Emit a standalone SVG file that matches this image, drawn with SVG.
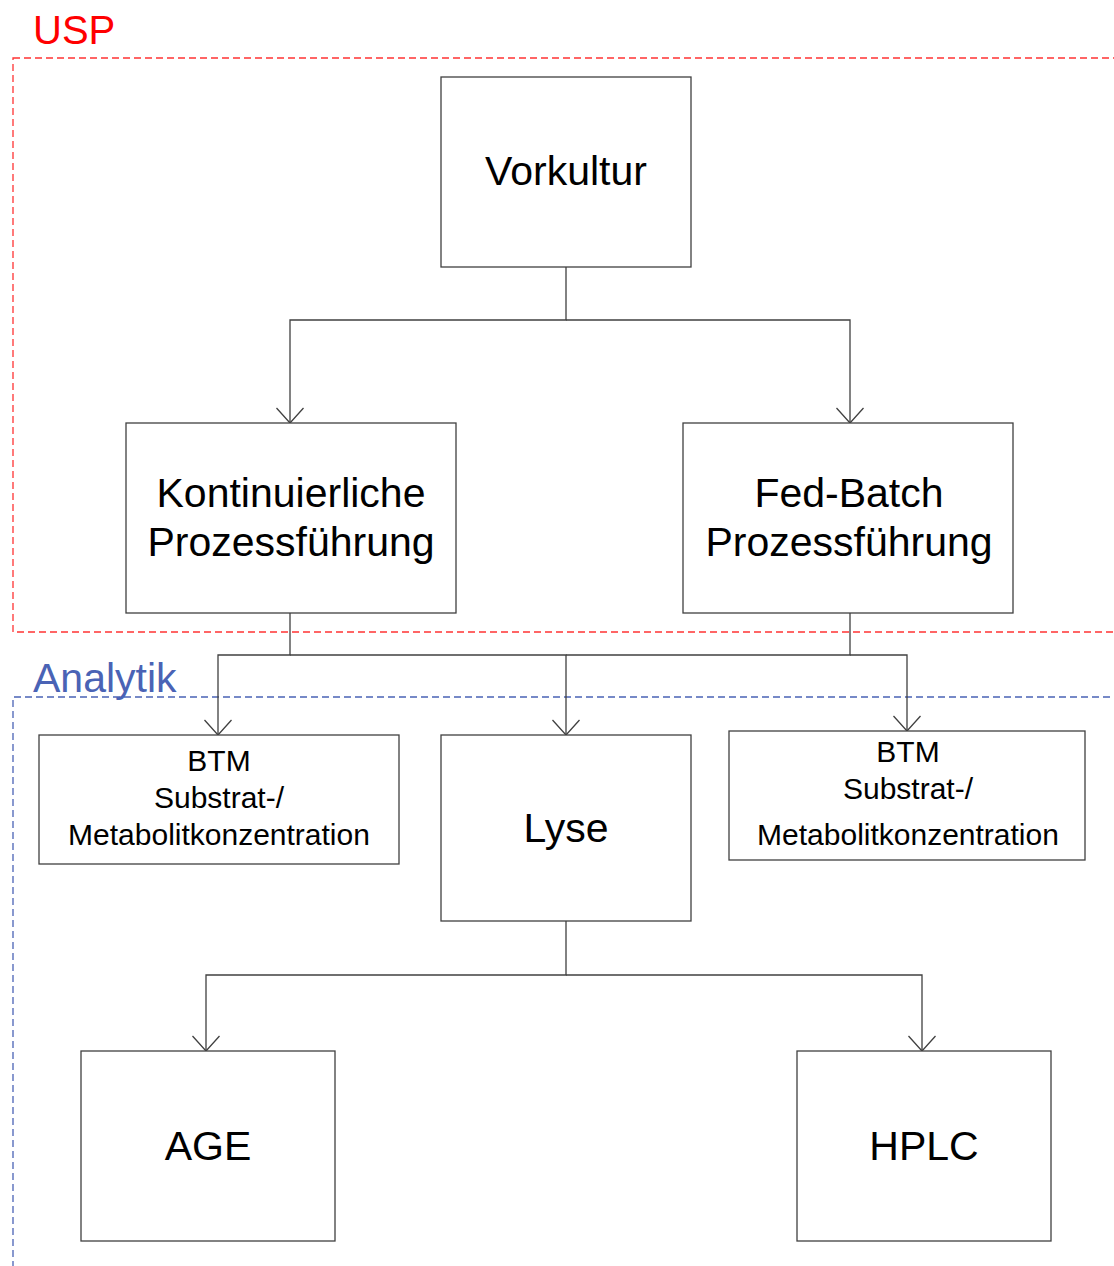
<svg xmlns="http://www.w3.org/2000/svg" width="1114" height="1266" viewBox="0 0 1114 1266">
<style>
.box{fill:#fff;stroke:#404040;stroke-width:1.3}
.t{font-family:"Liberation Sans",Arial,sans-serif;fill:#000;text-anchor:middle}
.big{font-size:41px}
.sm{font-size:30px}
.c{fill:none;stroke:#404040;stroke-width:1.3}
</style>
<defs>
<marker id="ah" viewBox="0 0 18 30" refX="16" refY="15" markerWidth="18" markerHeight="30" markerUnits="userSpaceOnUse" orient="auto">
<path d="M1,1.5 L16,15 L1,28.5" fill="none" stroke="#404040" stroke-width="1.3"/>
</marker>
</defs>
<g id="usp">
<rect x="13" y="58" width="1110" height="574" fill="none" stroke="#ff3333" stroke-width="1.3" stroke-dasharray="7,4"/>
<text x="33" y="44" font-family="Liberation Sans,Arial,sans-serif" font-size="40" fill="#ff0000">USP</text>
</g>
<g id="analytik">
<path d="M1110,697 H13 V1270" fill="none" stroke="#4a63b5" stroke-width="1.3" stroke-dasharray="7,4"/>
<text x="33" y="692" font-family="Liberation Sans,Arial,sans-serif" font-size="41" fill="#4a63b5">Analytik</text>
</g>
<g id="connectors">
<path class="c" d="M566,267 V320 H290 V423" marker-end="url(#ah)"/>
<path class="c" d="M566,320 H850 V423" marker-end="url(#ah)"/>
<path class="c" d="M290,613 V655 H218 V735" marker-end="url(#ah)"/>
<path class="c" d="M290,655 H566 V735" marker-end="url(#ah)"/>
<path class="c" d="M850,613 V655 H566"/>
<path class="c" d="M850,655 H907 V731" marker-end="url(#ah)"/>
<path class="c" d="M566,921 V975 H206 V1051" marker-end="url(#ah)"/>
<path class="c" d="M566,975 H922 V1051" marker-end="url(#ah)"/>
</g>
<g id="vorkultur">
<rect class="box" x="441" y="77" width="250" height="190"/>
<text class="t big" x="566" y="185">Vorkultur</text>
</g>
<g id="kontinuierlich">
<rect class="box" x="126" y="423" width="330" height="190"/>
<text class="t big" x="291" y="507">Kontinuierliche</text>
<text class="t big" x="291" y="556">Prozessführung</text>
</g>
<g id="fedbatch">
<rect class="box" x="683" y="423" width="330" height="190"/>
<text class="t big" x="849" y="507">Fed-Batch</text>
<text class="t big" x="849" y="556">Prozessführung</text>
</g>
<g id="btm1">
<rect class="box" x="39" y="735" width="360" height="129"/>
<text class="t sm" x="219" y="771">BTM</text>
<text class="t sm" x="219" y="808">Substrat-/</text>
<text class="t sm" x="219" y="845">Metabolitkonzentration</text>
</g>
<g id="lyse">
<rect class="box" x="441" y="735" width="250" height="186"/>
<text class="t big" x="566" y="842">Lyse</text>
</g>
<g id="btm2">
<rect class="box" x="729" y="731" width="356" height="129"/>
<text class="t sm" x="908" y="762">BTM</text>
<text class="t sm" x="908" y="799">Substrat-/</text>
<text class="t sm" x="908" y="845">Metabolitkonzentration</text>
</g>
<g id="age">
<rect class="box" x="81" y="1051" width="254" height="190"/>
<text class="t big" x="208" y="1160">AGE</text>
</g>
<g id="hplc">
<rect class="box" x="797" y="1051" width="254" height="190"/>
<text class="t big" x="924" y="1160">HPLC</text>
</g>
</svg>
